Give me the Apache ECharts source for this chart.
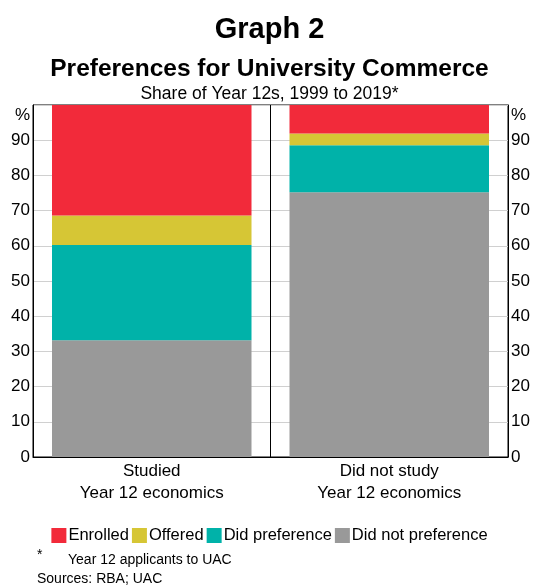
<!DOCTYPE html>
<html><head><meta charset="utf-8">
<script src="https://cdn.jsdelivr.net/npm/echarts@6/dist/echarts.min.js"></script>
<style>html,body{margin:0;padding:0;background:#fff}#c{width:539px;height:585px}</style>
</head><body><div id="c"></div>
<script>
const categories = ['Studied\nYear 12 economics', 'Did not study\nYear 12 economics'];
const didNotPreference = [33.2, 75.2];
const didPreference = [27.0, 13.4];
const offered = [8.4, 3.3];
const enrolled = [31.4, 8.1];
const yTicks = [0, 10, 20, 30, 40, 50, 60, 70, 80, 90, 100];

const font = 'Liberation Sans, Arial, sans-serif';
const chart = echarts.init(document.getElementById('c'));
const yLabel = v => (v === 100 ? '{p|%}' : String(v));
const mk = (name, data, color) => ({
  name, type: 'bar', stack: 'a', data, barWidth: '84%',
  itemStyle: { color }, emphasis: { disabled: true }
});
const axLabel = () => ({
  formatter: yLabel, fontFamily: font, fontSize: 17, color: '#000', margin: 3,
  rich: { p: { fontFamily: font, fontSize: 17, color: '#000', padding: [20, 0, 0, 0] } }
});
chart.setOption({
  animation: false,
  textStyle: { fontFamily: font },
  title: [
    { text: 'Graph 2', left: 'center', top: 10, textStyle: { fontFamily: font, fontSize: 29, fontWeight: 'bold', color: '#000' } },
    { text: 'Preferences for University Commerce', left: 'center', top: 52, textStyle: { fontFamily: font, fontSize: 24.5, fontWeight: 'bold', color: '#000' } },
    { text: 'Share of Year 12s, 1999 to 2019*', left: 'center', top: 80, textStyle: { fontFamily: font, fontSize: 17.5, fontWeight: 'normal', color: '#000' } },
    { text: '*', left: 32, top: 543, textStyle: { fontFamily: font, fontSize: 14, fontWeight: 'normal', color: '#000' } },
    { text: 'Year 12 applicants to UAC', left: 63, top: 548, textStyle: { fontFamily: font, fontSize: 14, fontWeight: 'normal', color: '#000' } },
    { text: 'Sources: RBA; UAC', left: 32, top: 567, textStyle: { fontFamily: font, fontSize: 14, fontWeight: 'normal', color: '#000' } }
  ],
  legend: {
    data: ['Enrolled', 'Offered', 'Did preference', 'Did not preference'],
    left: 'center', top: 522, itemWidth: 15, itemHeight: 15, itemGap: 3,
    icon: 'rect',
    textStyle: { fontFamily: font, fontSize: 16.5, color: '#000', padding: [0, 0, 0, -3] }
  },
  grid: { left: 33, right: 31, top: 105, bottom: 128, show: true, borderColor: '#000', borderWidth: 1 },
  xAxis: {
    type: 'category', data: categories,
    axisLine: { lineStyle: { color: '#000' } },
    axisTick: { show: false },
    splitLine: { show: true, lineStyle: { color: '#000', width: 1 } },
    axisLabel: { fontFamily: font, fontSize: 17, color: '#000', lineHeight: 22, margin: 3 }
  },
  yAxis: [
    { type: 'value', min: 0, max: 100, interval: 10, position: 'left',
      axisLine: { show: true, lineStyle: { color: '#000' } }, axisTick: { show: false },
      splitLine: { lineStyle: { color: '#d0d0d0' } },
      axisLabel: axLabel() },
    { type: 'value', min: 0, max: 100, interval: 10, position: 'right',
      axisLine: { show: true, lineStyle: { color: '#000' } }, axisTick: { show: false },
      splitLine: { show: false },
      axisLabel: axLabel() }
  ],
  series: [
    mk('Did not preference', didNotPreference, '#999999'),
    mk('Did preference', didPreference, '#00B2A9'),
    mk('Offered', offered, '#D6C635'),
    mk('Enrolled', enrolled, '#F22A3A')
  ]
});
</script></body></html>
